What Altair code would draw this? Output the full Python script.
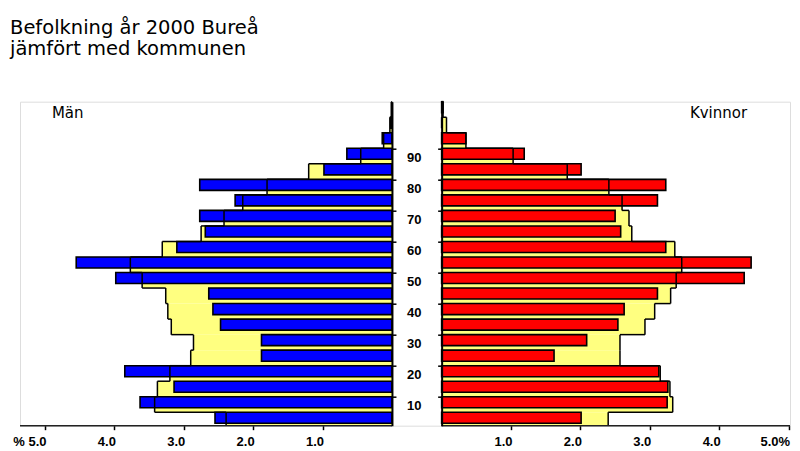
import altair as alt
import pandas as pd

# ---- data (percent of population, per 5-year group) ----
ages = ["0-4", "5-9", "10-14", "15-19", "20-24", "25-29", "30-34", "35-39", "40-44",
        "45-49", "50-54", "55-59", "60-64", "65-69", "70-74", "75-79", "80-84",
        "85-89", "90-94", "95-99", "100+"]
age_start = [0, 5, 10, 15, 20, 25, 30, 35, 40, 45, 50, 55, 60, 65, 70, 75, 80, 85, 90, 95, 100]
men_burea = [2.55, 3.63, 3.14, 3.85, 1.88, 1.88, 2.47, 2.58, 2.64, 3.98, 4.55,
             3.10, 2.69, 2.77, 2.26, 2.77, 0.98, 0.65, 0.14, 0.02, 0.00]
men_kommun = [2.39, 3.42, 3.38, 3.20, 2.90, 2.86, 3.18, 3.23, 3.26, 3.60, 3.77,
              3.31, 2.75, 2.42, 2.15, 1.80, 1.20, 0.45, 0.12, 0.03, 0.01]
women_burea = [2.01, 3.25, 3.26, 3.13, 1.62, 2.09, 2.54, 2.63, 3.11, 4.36, 4.46,
               3.23, 2.58, 2.50, 3.11, 3.23, 2.01, 1.19, 0.35, 0.00, 0.02]
women_kommun = [2.40, 3.33, 3.29, 3.15, 2.57, 2.57, 2.93, 3.07, 3.30, 3.38, 3.46,
                3.36, 2.74, 2.70, 2.60, 2.41, 1.81, 1.03, 0.35, 0.07, 0.02]
age_ticks = [10, 20, 30, 40, 50, 60, 70, 80, 90]
pct_ticks = [1, 2, 3, 4, 5]
panel_labels = ["Män", "Kvinnor"]
title_lines = ["Befolkning år 2000 Bureå", "jämfört med kommunen"]

# ---- layout helpers (in axis units) ----
GAP = 0.716            # width of the centre strip between the panels, in % units
XMIN, XMAX = -5.36, GAP + 5.02
YMIN, YMAX = 0.68, 105
W, H = 770, 324

BLUE, RED, YELLOW = "#0000ff", "#ff0000", "#ffff80"
AXFONT = "Liberation Sans Narrow, Liberation Sans, Arial"

def xpix(v):
    return (v - XMIN) / (XMAX - XMIN) * W

df = pd.DataFrame({
    "group": ages, "age": age_start,
    "men": men_burea, "men_k": men_kommun,
    "women": women_burea, "women_k": women_kommun,
})
df["top"] = df["age"] + 5
df["bar_lo"] = df["age"] + 1.45
df["zero"] = 0.0
df["w0"] = GAP
df["m_end"] = -df["men"]
df["mk_end"] = -df["men_k"]
df["w_end"] = GAP + df["women"]
df["wk_end"] = GAP + df["women_k"]
df["mk_next"] = df["mk_end"].shift(-1).fillna(0.0)
df["wk_next"] = df["wk_end"].shift(-1).fillna(GAP)

xscale = alt.Scale(domain=[XMIN, XMAX], nice=False, zero=False)
yscale = alt.Scale(domain=[YMIN, YMAX], nice=False, zero=False)

label_expr = ("datum.value < -4.5 ? '% 5.0' : datum.value < 0 ? format(-datum.value, '.1f') : "
              "datum.value > 5.5 ? '5.0%' : format(datum.value - " + str(GAP) + ", '.1f')")
xaxis = alt.Axis(values=[-t for t in pct_ticks] + [GAP + t for t in pct_ticks],
                 labelExpr=label_expr, domain=False, grid=False, title=None,
                 tickSize=4, tickColor="black", tickWidth=1.5,
                 labelFont=AXFONT, labelFontSize=13, labelFontWeight="bold",
                 labelColor="black", labelPadding=6, labelAlign="right", labelOffset=1)

def X(field):
    return alt.X(field, type="quantitative", scale=xscale, axis=xaxis)

def Y(field, axis=None):
    return alt.Y(field, type="quantitative", scale=yscale, axis=axis)

base = alt.Chart(df)

yellow_m = base.mark_rect(color=YELLOW, clip=True).encode(
    x=X("mk_end"), x2="zero", y=Y("age"), y2="top")
yellow_w = base.mark_rect(color=YELLOW, clip=True).encode(
    x=X("w0"), x2="wk_end", y=Y("age"), y2="top")

left_axis = alt.Axis(orient="right", offset=-(W - xpix(0)), values=age_ticks, labels=False,
                     tickSize=4, tickColor="black", tickWidth=1.5, domainColor="black",
                     domainWidth=2, grid=False, title=None, zindex=1)
right_axis = alt.Axis(orient="left", offset=-xpix(GAP), values=age_ticks,
                      tickSize=4, tickColor="black", tickWidth=1.5, domainColor="black",
                      domainWidth=2, grid=False, title=None, zindex=1,
                      labelAlign="center", labelBaseline="middle", labelPadding=24,
                      labelOffset=9, labelFont=AXFONT, labelFontSize=13,
                      labelFontWeight="bold", labelColor="black")

blue = base.mark_rect(color=BLUE, stroke="black", strokeWidth=1.6).encode(
    x=X("m_end"), x2="zero", y=Y("bar_lo", left_axis), y2="top")
red = base.mark_rect(color=RED, stroke="black", strokeWidth=1.6).encode(
    x=X("w0"), x2="w_end", y=Y("bar_lo", right_axis), y2="top")

edge_m = base.mark_rule(color="black", strokeWidth=1.5, clip=True).encode(
    x=X("mk_end"), y=Y("age"), y2="top")
edge_w = base.mark_rule(color="black", strokeWidth=1.5, clip=True).encode(
    x=X("wk_end"), y=Y("age"), y2="top")
step_m = base.mark_rule(color="black", strokeWidth=1.5).encode(
    x=X("mk_end"), x2="mk_next", y=Y("top"))
step_w = base.mark_rule(color="black", strokeWidth=1.5).encode(
    x=X("wk_end"), x2="wk_next", y=Y("top"))

baseline_df = pd.DataFrame({"x1": [XMIN, GAP], "x2": [0.0, XMAX], "y": [YMIN, YMIN]})
baseline = alt.Chart(baseline_df).mark_rule(color="#222222", strokeWidth=1.5).encode(
    x=X("x1"), x2="x2", y=Y("y"))

labels_df = pd.DataFrame({"x": [-4.9, 4.294], "y": [99.66, 99.66], "t": panel_labels})
labels = alt.Chart(labels_df).mark_text(
    align="left", baseline="alphabetic", font="DejaVu Sans", fontSize=15, color="black"
).encode(x=X("x"), y=Y("y"), text="t:N")

chart = alt.layer(
    yellow_m, yellow_w, blue, red, edge_m, edge_w, step_m, step_w, baseline, labels
).resolve_scale(y="independent").properties(
    width=W, height=H,
    autosize=alt.AutoSizeParams(type="none"),
    padding={"left": 12, "top": 93.7, "right": 2, "bottom": 26},
    title=alt.TitleParams(text=title_lines, anchor="start", frame="group",
                          font="DejaVu Sans", fontSize=19.5, fontWeight="normal",
                          color="black", lineHeight=21, baseline="alphabetic",
                          offset=26.4, dx=-10),
).configure_view(strokeWidth=0).configure(background="white")

chart.save("out.html", embed_options={"renderer": "svg", "actions": False})
